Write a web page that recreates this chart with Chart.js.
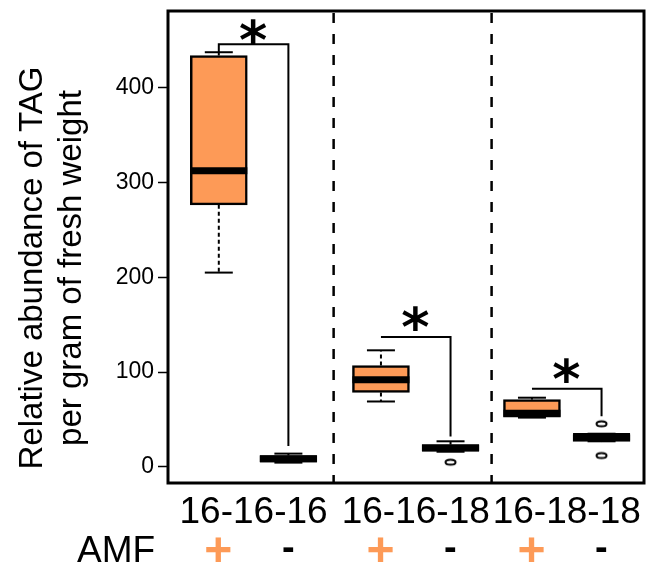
<!DOCTYPE html>
<html>
<head>
<meta charset="utf-8">
<script src="https://cdn.jsdelivr.net/npm/chart.js@4.4.1/dist/chart.umd.min.js"></script>
<style>
  html, body { margin: 0; padding: 0; background: #fff; }
</style>
</head>
<body>
<canvas id="boxplot" width="649" height="570"></canvas>
<script>
// data
const groups = ['16-16-16', '16-16-18', '16-18-18'];
const amf = ['+', '-', '+', '-', '+', '-'];
const at = [1, 2, 3.33, 4.33, 5.5, 6.5];
const whiskerLow = [205, 4.5, 69, 16, 52, 27];
const q1 = [276.5, 5, 78.5, 16.5, 52.5, 27];
const median = [312.5, 8.5, 92, 20, 56.5, 32];
const q3 = [434, 12, 107, 23.5, 71, 34];
const whiskerHigh = [437.5, 14, 123, 27, 73, 35];
const outlierBox = [3, 5, 5];
const outlierValue = [5, 45.5, 12];
const bracketPairs = [[0, 1], [2, 3], [4, 5]];
const bracketTop = [446, 137, 82.5];
const bracketLeftEnd = [437.5, 137, 82.5];
const bracketRightEnd = [22, 32, 53.5];
const starY = [459, 156.5, 101.5];
const dividers = [2.65, 4.92];
const yTicks = [0, 100, 200, 300, 400];
const yTitle = ['Relative abundance of TAG', 'per gram of fresh weight'];

const ORANGE = '#fd9a57';
const FONT = '"Liberation Sans", Arial, sans-serif';
const BOX_W = 57;
const CAP_W = 28;

// little open ellipse used for outliers
function ellipseMarker() {
  const c = document.createElement('canvas');
  c.width = 15;
  c.height = 10;
  const g = c.getContext('2d');
  g.lineWidth = 2;
  g.strokeStyle = '#000';
  g.beginPath();
  g.ellipse(7.5, 5, 5, 2.6, 0, 0, Math.PI * 2);
  g.stroke();
  return c;
}

function centeredText(ctx, text, cx, cy, font, color) {
  ctx.font = font;
  ctx.fillStyle = color;
  ctx.textAlign = 'left';
  ctx.textBaseline = 'alphabetic';
  const m = ctx.measureText(text);
  const x = cx - (m.actualBoundingBoxRight - m.actualBoundingBoxLeft) / 2;
  const y = cy + (m.actualBoundingBoxAscent - m.actualBoundingBoxDescent) / 2;
  ctx.fillText(text, x, y);
}

function line(ctx, x1, y1, x2, y2) {
  ctx.beginPath();
  ctx.moveTo(x1, y1);
  ctx.lineTo(x2, y2);
  ctx.stroke();
}

// no extra room for tick labels, the frame sits at fixed edges
function noPad(s) {
  s.paddingTop = 0;
  s.paddingBottom = 0;
  s.paddingLeft = 0;
  s.paddingRight = 0;
}

const boxExtras = {
  id: 'boxExtras',
  afterDraw(chart) {
    const ctx = chart.ctx;
    const xs = chart.scales.x;
    const ys = chart.scales.y;
    const area = chart.chartArea;
    ctx.save();
    ctx.strokeStyle = '#000';
    ctx.lineCap = 'butt';

    // whiskers and caps
    at.forEach((pos, i) => {
      const x = xs.getPixelForValue(pos);
      ctx.lineWidth = 2;
      ctx.setLineDash([4, 3]);
      line(ctx, x, ys.getPixelForValue(q3[i]), x, ys.getPixelForValue(whiskerHigh[i]));
      line(ctx, x, ys.getPixelForValue(q1[i]), x, ys.getPixelForValue(whiskerLow[i]));
      ctx.setLineDash([]);
      line(ctx, x - CAP_W / 2, ys.getPixelForValue(whiskerHigh[i]), x + CAP_W / 2, ys.getPixelForValue(whiskerHigh[i]));
      line(ctx, x - CAP_W / 2, ys.getPixelForValue(whiskerLow[i]), x + CAP_W / 2, ys.getPixelForValue(whiskerLow[i]));
      // median
      ctx.lineWidth = 7;
      line(ctx, x - BOX_W / 2, ys.getPixelForValue(median[i]), x + BOX_W / 2, ys.getPixelForValue(median[i]));
    });

    // dashed group dividers
    ctx.lineWidth = 2.5;
    ctx.setLineDash([10, 11]);
    dividers.forEach(d => {
      const x = xs.getPixelForValue(d);
      line(ctx, x, area.top + 2, x, area.bottom);
    });
    ctx.setLineDash([]);

    // significance brackets
    ctx.lineWidth = 2;
    bracketPairs.forEach((p, k) => {
      const xl = xs.getPixelForValue(at[p[0]]);
      const xr = xs.getPixelForValue(at[p[1]]);
      const yt = ys.getPixelForValue(bracketTop[k]);
      ctx.beginPath();
      ctx.moveTo(xl, ys.getPixelForValue(bracketLeftEnd[k]));
      ctx.lineTo(xl, yt);
      ctx.lineTo(xr, yt);
      ctx.lineTo(xr, ys.getPixelForValue(bracketRightEnd[k]));
      ctx.stroke();
      centeredText(ctx, '*', (xl + xr) / 2, ys.getPixelForValue(starY[k]), 'bold 54px "DejaVu Sans", sans-serif', '#000');
    });

    // frame
    ctx.lineWidth = 3;
    ctx.strokeRect(area.left, area.top, area.right - area.left, area.bottom - area.top);

    // AMF row
    ctx.font = '37px ' + FONT;
    ctx.fillStyle = '#000';
    ctx.textAlign = 'left';
    ctx.textBaseline = 'alphabetic';
    ctx.fillText('AMF', 77, 562);
    amf.forEach((s, i) => {
      const x = xs.getPixelForValue(at[i]);
      if (s === '+') {
        centeredText(ctx, '+', x, 549, 'bold 48px ' + FONT, ORANGE);
      } else {
        centeredText(ctx, '-', x, 549, 'bold 38px ' + FONT, '#000');
      }
    });

    // y axis title
    ctx.font = '33px ' + FONT;
    ctx.fillStyle = '#000';
    ctx.textAlign = 'center';
    ctx.textBaseline = 'alphabetic';
    [42, 81].forEach((bx, k) => {
      ctx.save();
      ctx.translate(bx, 268);
      ctx.rotate(-Math.PI / 2);
      ctx.fillText(yTitle[k], 0, 0);
      ctx.restore();
    });
    ctx.restore();
  }
};

const canvas = document.getElementById('boxplot');

new Chart(canvas, {
  type: 'bar',
  data: {
    datasets: [{
      label: 'box',
      data: at.map((pos, i) => ({ x: pos, y: [q1[i], q3[i]] })),
      backgroundColor: amf.map(s => s === '+' ? ORANGE : '#ffffff'),
      borderColor: '#000',
      borderWidth: 2.5,
      borderSkipped: false,
      barThickness: BOX_W,
      order: 2
    }, {
      type: 'scatter',
      label: 'outliers',
      data: outlierBox.map((b, i) => ({ x: at[b], y: outlierValue[i] })),
      pointStyle: ellipseMarker(),
      order: 1
    }]
  },
  options: {
    responsive: false,
    animation: false,
    events: [],
    layout: { padding: { top: 11, right: 2, left: 0, bottom: 0 } },
    plugins: {
      legend: { display: false },
      tooltip: { enabled: false }
    },
    scales: {
      x: {
        type: 'linear',
        min: 0.27,
        max: 7.11,
        offset: false,
        grid: { display: false },
        border: { display: false },
        afterBuildTicks: s => {
          s.ticks = groups.map((g, k) => ({ value: (at[2 * k] + at[2 * k + 1]) / 2 }));
        },
        afterFit: s => { s.height = 87; noPad(s); },
        ticks: {
          autoSkip: false,
          maxRotation: 0,
          minRotation: 0,
          padding: 0,
          color: '#000',
          font: { family: FONT, size: 37 },
          callback: (v, i) => groups[i]
        }
      },
      y: {
        type: 'linear',
        min: -17,
        max: 481,
        grid: {
          drawOnChartArea: false,
          drawTicks: true,
          tickLength: 10,
          tickColor: '#000',
          tickWidth: 1.5
        },
        border: { display: false },
        afterBuildTicks: s => {
          s.ticks = yTicks.map(v => ({ value: v }));
        },
        afterFit: s => { s.width = 168; noPad(s); },
        ticks: {
          padding: 4,
          color: '#000',
          font: { family: FONT, size: 23 }
        }
      }
    }
  },
  plugins: [boxExtras]
});
</script>
</body>
</html>
